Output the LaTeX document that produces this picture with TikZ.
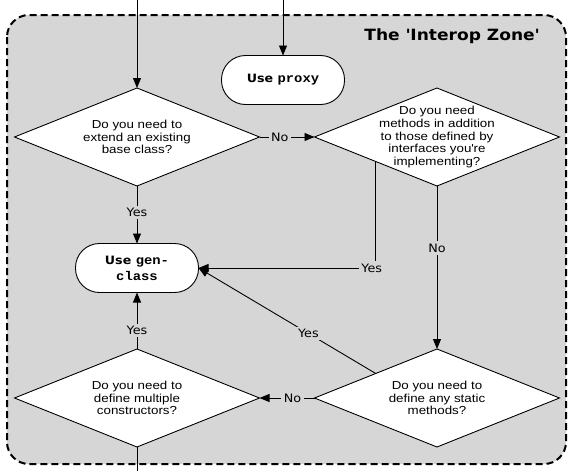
\documentclass[tikz,border=0pt]{standalone}
\usepackage{fontspec}
\setmainfont{Liberation Sans}[FakeStretch=1.15]
\newfontfamily\lblfont{DejaVu Sans}[FakeStretch=1.1]
\newfontfamily\codefont{Liberation Mono}[FakeStretch=1.1]
\usetikzlibrary{positioning, arrows.meta, shapes.geometric}
\definecolor{zoneGray}{HTML}{D6D6D6}
\newcommand{\code}[1]{{\codefont\bfseries\fontsize{12.6}{16}\selectfont #1}}

\tikzset{
  zone/.style={draw, fill=zoneGray, line width=2pt, dash pattern=on 7pt off 4pt,
    rounded corners=22pt},
  decision/.style={diamond, draw, fill=white, line width=0.9pt,
    minimum width=245pt, minimum height=98pt, inner sep=0pt, outer sep=0pt},
  qtext/.style={align=center, inner sep=0pt, font=\fontsize{11.6}{12.6}\selectfont},
  terminal/.style={rectangle, draw, fill=white, rounded corners=24pt, line width=0.9pt,
    minimum width=123pt, minimum height=49pt, align=center, outer sep=0pt,
    font=\lblfont\bfseries\fontsize{11.5}{16}\selectfont},
  flow/.style={line width=0.9pt, -{Triangle[length=10pt,width=8pt]}},
  lbl/.style={fill=zoneGray, inner sep=2.5pt, font=\lblfont\fontsize{11.6}{13}\selectfont},
}

\begin{document}
\begin{tikzpicture}[x=1pt, y=-1pt]
  \useasboundingbox (0,0) rectangle (569,471);
  \draw[zone] (7,15) rectangle (566,464);
  \node[anchor=east, font=\lblfont\bfseries\fontsize{15.5}{18}\selectfont] (ttl)
    at (543,36) {The \textquotesingle Interop Zone\textquotesingle};

  % ways in and out
  \coordinate (in1) at (137,0);
  \coordinate (in2) at (283,0);
  \coordinate (out1) at (137,471);

  % boxes
  \node[terminal] (proxy) at (283,80) {Use \code{proxy}};
  \node[terminal] (gen) at (137,268) {Use \code{gen-}\\\code{class}};

  % questions
  \node[decision] (ext) at (137,137) {};
  \node[qtext] (extT) at (ext) {Do you need to\\extend an existing\\base class?};
  \node[decision] (meth) at (437,137) {};
  \node[qtext] (methT) at (meth) {Do you need\\methods in addition\\to those defined by\\
    interfaces you\textquotesingle re\\implementing?};
  \node[decision] (ctor) at (137,398) {};
  \node[qtext] (ctorT) at (ctor) {Do you need to\\define multiple\\constructors?};
  \node[decision] (stat) at (437,398) {};
  \node[qtext] (statT) at (stat) {Do you need to\\define any static\\methods?};

  % connectors
  \draw[flow] (in1) -- (ext.north);
  \draw[flow] (in2) -- (proxy.north);
  \draw[line width=0.9pt] (ctor.south) -- (out1);
  \draw[flow] (ext.east) -- node[lbl, pos=0.37] (n1) {No} (meth.west);
  \draw[flow] (ext.south) -- node[lbl, pos=0.46] (y1) {Yes} (gen.north);
  \draw[flow] (meth.south west) |- node[lbl, pos=0.5, xshift=-4pt] (y2) {Yes} (gen.east);
  \draw[flow] (meth.south) -- node[lbl, pos=0.38] (n2) {No} (stat.north);
  \draw[flow] (stat.north west) -- node[lbl, pos=0.38] (y3) {Yes} (gen.east);
  \draw[flow] (stat.west) -- node[lbl, pos=0.40] (n3) {No} (ctor.east);
  \draw[flow] (ctor.north) -- node[lbl, pos=0.33] (y4) {Yes} (gen.south);
\end{tikzpicture}
\end{document}
